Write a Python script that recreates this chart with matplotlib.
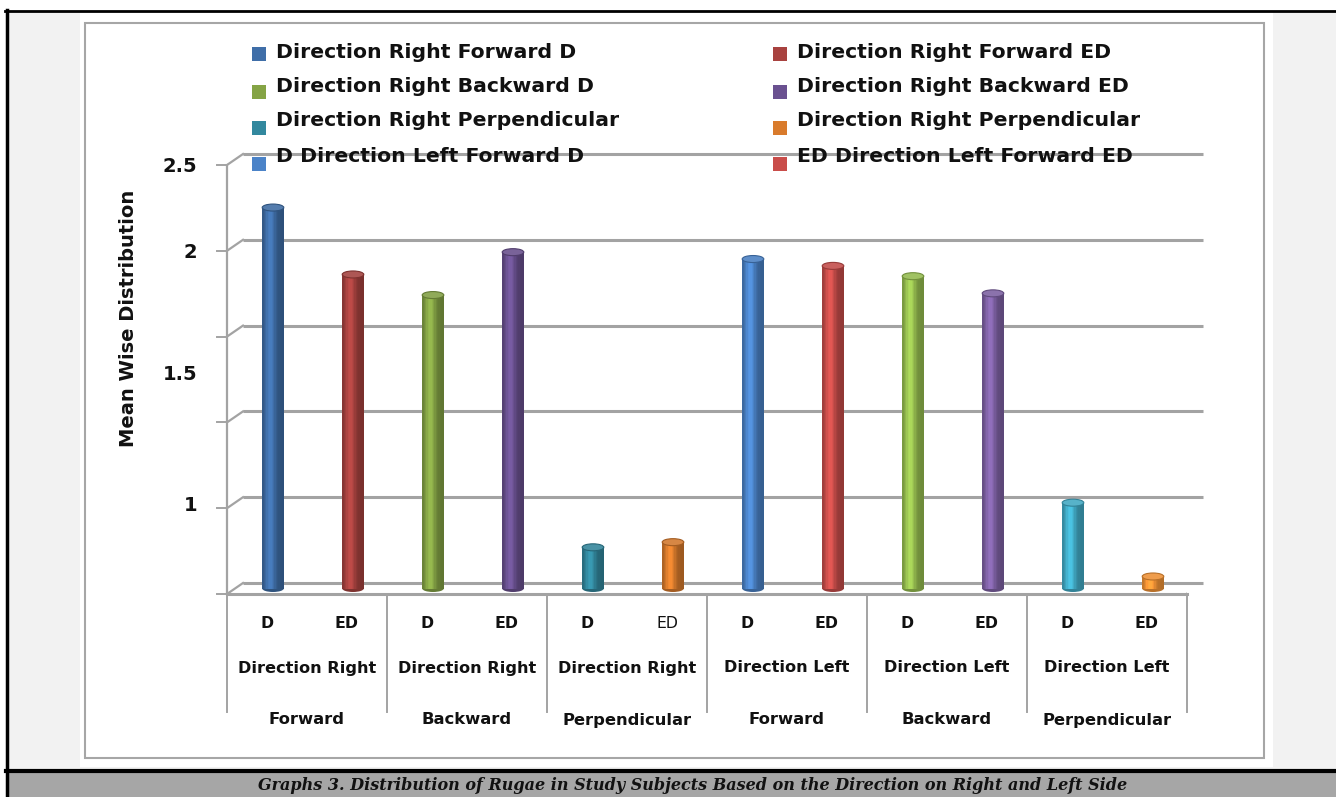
import numpy as np
import matplotlib
matplotlib.use("Agg")
import matplotlib.pyplot as plt
import matplotlib.transforms as mtransforms
from matplotlib.patches import Rectangle, Ellipse
from matplotlib.lines import Line2D
from matplotlib.colors import to_rgb

# ---- data -------------------------------------------------------------
sides = ["Direction Right", "Direction Right", "Direction Right",
         "Direction Left", "Direction Left", "Direction Left"]
directions = ["Forward", "Backward", "Perpendicular",
              "Forward", "Backward", "Perpendicular"]
subtypes = ["D", "ED"]
series_labels = [
    "Direction Right Forward D", "Direction Right Forward ED",
    "Direction Right Backward D", "Direction Right Backward ED",
    "Direction Right Perpendicular", "Direction Right Perpendicular",
    "D Direction Left Forward D", "ED Direction Left Forward ED",
]
values = [2.22, 1.83, 1.71, 1.96, 0.24, 0.27,
          1.92, 1.88, 1.82, 1.72, 0.50, 0.07]
bar_colors = ["#3f6ea8", "#a8423f", "#85a445", "#6a5190", "#32889e", "#d97b2c",
              "#4b83c8", "#c94d4a", "#98c050", "#8062a6", "#42adc9", "#f59536"]
ytick_labels = ["2.5", "2", "1.5", "1"]
caption = ("Graphs 3. Distribution of Rugae in Study Subjects Based on the "
           "Direction on Right and Left Side")
ylabel = "Mean Wise Distribution"

# ---- layout -----------------------------------------------------------
W, H = 1336, 797
fig = plt.figure(figsize=(W / 100, H / 100), dpi=100)
fig.patch.set_facecolor("white")
pix = mtransforms.Affine2D().scale(1 / W, -1 / H).translate(0, 1) + fig.transFigure

SANS = ["DejaVu Sans"]
GRID = "#a3a3a3"
TXT = "#111111"

# page frame, grey margins and chart border
fig.add_artist(Rectangle((7, 11), W - 7, 760, transform=pix, facecolor="#f2f2f2",
                         edgecolor="none", zorder=0))
fig.add_artist(Rectangle((80, 11), 1193, 756, transform=pix, facecolor="white",
                         edgecolor="none", zorder=0.1))
fig.add_artist(Rectangle((85, 23), 1179, 735, transform=pix, facecolor="none",
                         edgecolor="#a6a6a6", lw=1.5, zorder=0.2))
fig.add_artist(Rectangle((7, 773), W - 7, 24, transform=pix, facecolor="#a6a6a6",
                         edgecolor="none", zorder=0.3))
fig.add_artist(Line2D([5, W], [11, 11], transform=pix, color="black", lw=2.0))
fig.add_artist(Line2D([6.5, 6.5], [10, H], transform=pix, color="black", lw=2.5))
fig.add_artist(Line2D([6, W], [771.5, 771.5], transform=pix, color="black", lw=3.0))
fig.text(693 / W, 1 - 785 / H, caption, ha="center", va="center",
         fontsize=11.5, fontweight="bold", fontstyle="italic",
         family=["DejaVu Serif"], color=TXT)

# plotting axes: x = bar slot, y = value (front plane)
ax_left, ax_bottom, ax_w, unit_px = 227, 594, 960, 171.6
ymax = 2.6
ax = fig.add_axes([ax_left / W, 1 - ax_bottom / H, ax_w / W, ymax * unit_px / H])
ax.set_zorder(2)
ax.set_xlim(-0.5, 11.5)
ax.set_ylim(0, ymax)
ax.axis("off")

back = mtransforms.offset_copy(ax.transData, fig=fig, x=16, y=11, units="dots")
mid = mtransforms.offset_copy(ax.transData, fig=fig, x=6, y=5.5, units="dots")
ident = mtransforms.IdentityTransform()


def depth_line(x, y, **kw):
    p0 = ax.transData.transform((x, y))
    p1 = back.transform((x, y))
    ax.add_artist(Line2D([p0[0], p1[0]], [p0[1], p1[1]], transform=ident, **kw))


grid_vals = np.arange(0, 2.51, 0.5)
for v in grid_vals:
    ax.plot([-0.5, 11.5], [v, v], transform=back, color=GRID, lw=2.2,
            clip_on=False, zorder=1, solid_capstyle="butt")
    depth_line(-0.5, v, color=GRID, lw=1.6, zorder=1)
    ax.plot([-0.5 - 10 / 80, -0.5], [v, v], color=GRID, lw=1.4, clip_on=False, zorder=1)

ax.plot([-0.5, -0.5], [0, grid_vals[-1]], color=GRID, lw=1.6, clip_on=False, zorder=1)
ax.plot([-0.5, 11.5], [0, 0], color=GRID, lw=2.2, clip_on=False, zorder=1)
depth_line(11.5, 0, color=GRID, lw=2.0, zorder=1)

# category separators below the floor
y_sep = -118 / unit_px
for k in range(7):
    ax.plot([-0.5 + 2 * k] * 2, [0, y_sep], color=GRID, lw=1.4, clip_on=False, zorder=1)

# cylinders
w = 0.27
cap_h = 7 / unit_px
nstrip = 16
t = (np.arange(nstrip) + 0.5) / nstrip
shade = 0.72 + 0.42 * np.exp(-((t - 0.36) / 0.26) ** 2)
for i, (v, c) in enumerate(zip(values, bar_colors)):
    base = np.array(to_rgb(c))
    dark = base * 0.75
    ax.add_patch(Ellipse((i, 0), w, cap_h, transform=mid, facecolor=dark,
                         edgecolor="none", zorder=3, clip_on=False))
    for s in range(nstrip):
        col = np.clip(base * shade[s], 0, 1)
        ax.bar(i - w / 2 + s * w / nstrip, v, width=w / nstrip * 1.05, align="edge",
               color=col, edgecolor="none", transform=mid, zorder=3, clip_on=False)
    top = np.clip(base * 0.85 + 0.12, 0, 1)
    ax.add_patch(Ellipse((i, v), w, cap_h, transform=mid, facecolor=top,
                         edgecolor=dark, lw=0.8, zorder=4, clip_on=False))

# category labels
for i in range(12):
    sub = subtypes[i % 2]
    weight = "normal" if i == 5 else "bold"
    ax.text(i, -29 / unit_px, sub, ha="center", va="center", fontsize=11.3,
            fontweight=weight, family=SANS, color=TXT, clip_on=False)
for g in range(6):
    ax.text(2 * g + 0.5, -74 / unit_px, sides[g], ha="center", va="center",
            fontsize=11.6, fontweight="bold", family=SANS, color=TXT, clip_on=False)
    ax.text(2 * g + 0.5, -126 / unit_px, directions[g], ha="center", va="center",
            fontsize=11.8, fontweight="bold", family=SANS, color=TXT, clip_on=False)

# value-axis labels
label_y_px = [167, 252, 374, 505]
for lab, py in zip(ytick_labels, label_y_px):
    fig.text(197 / W, 1 - py / H, lab, ha="right", va="center", fontsize=14,
             fontweight="bold", family=SANS, color=TXT)
fig.text(128 / W, 1 - 318 / H, ylabel, ha="center", va="center", rotation=90,
         fontsize=14, fontweight="bold", family=SANS, color=TXT)

# legend (two columns)
leg_cols_x = [252, 773]
leg_rows_y = [53, 87, 120, 156]
sq_rows_y = [54, 92, 128, 164]
for k, lab in enumerate(series_labels):
    r, cidx = divmod(k, 2)
    x0 = leg_cols_x[cidx]
    fig.add_artist(Rectangle((x0, sq_rows_y[r] - 7), 14, 14, transform=pix,
                             facecolor=bar_colors[k], edgecolor="none", zorder=5))
    fig.text((x0 + 24) / W, 1 - leg_rows_y[r] / H, lab, ha="left", va="center",
             fontsize=14.7, fontweight="bold", family=SANS, color=TXT, zorder=6)

fig.savefig("out.png", dpi=100, facecolor=fig.get_facecolor())
